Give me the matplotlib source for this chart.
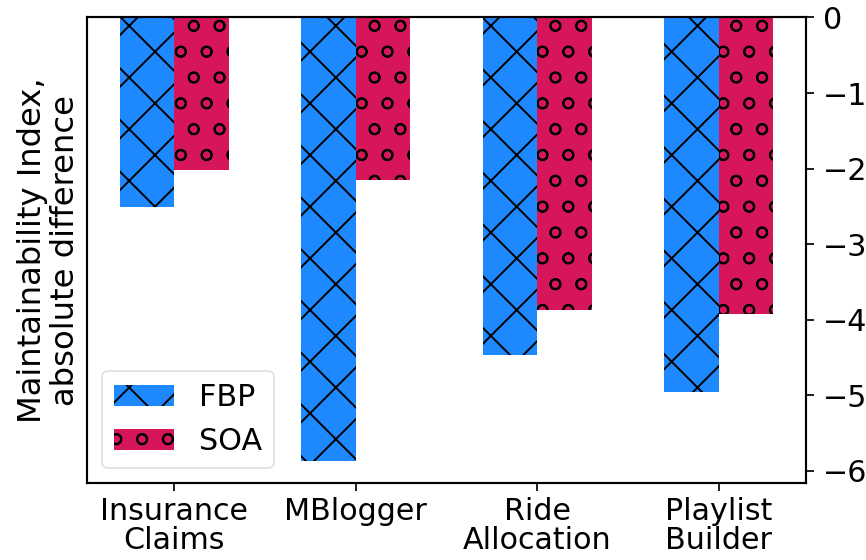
import numpy as np
import matplotlib
matplotlib.use("Agg")
import matplotlib.pyplot as plt

# Maintainability index change per application (absolute difference)
apps = ["Insurance\nClaims", "MBlogger", "Ride\nAllocation", "Playlist\nBuilder"]
fbp = [-2.51, -5.87, -4.47, -4.96]
soa = [-2.02, -2.15, -3.87, -3.93]

plt.rcParams["hatch.linewidth"] = 0.45
plt.rcParams["hatch.color"] = "black"
plt.rcParams["font.size"] = 7

dpi = 310
fig = plt.figure(figsize=(866 / dpi, 560 / dpi), dpi=dpi)
ax = fig.add_axes([0.1005, 0.1375, 0.8302, 0.8313])

x = np.arange(len(apps))
w = 0.3
ax.bar(x - w / 2, fbp, w, color="#1E88FF", linewidth=0, hatch="xx", label="FBP")
ax.bar(x + w / 2, soa, w, color="#D6155A", linewidth=0, hatch="oo", label="SOA")

ax.set_xticks(x)
ax.set_xticklabels(apps, linespacing=1.0)
ax.yaxis.tick_right()
ax.set_yticks([0, -1, -2, -3, -4, -5, -6])
ax.set_ylabel("Maintainability Index,\nabsolute difference", fontsize=7.5,
              labelpad=1.5, linespacing=1.05)

for s in ax.spines.values():
    s.set_linewidth(0.5)
ax.tick_params(axis="both", width=0.4, length=1.8, labelsize=7)
ax.tick_params(axis="y", pad=2.2)
ax.tick_params(axis="x", pad=1.5)

leg = ax.legend(loc="lower left", fontsize=7, fancybox=True)
leg.get_frame().set_linewidth(0.4)
leg.get_frame().set_edgecolor("0.85")

fig.savefig("out.png", dpi=dpi)
